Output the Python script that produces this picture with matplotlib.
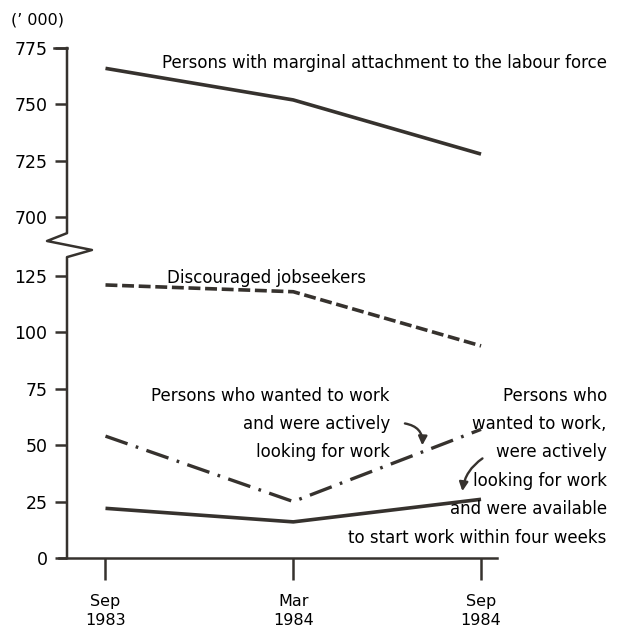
import matplotlib
matplotlib.use("Agg")
import matplotlib.pyplot as plt
from matplotlib.transforms import offset_copy

plt.rcParams["font.family"] = ["DejaVu Sans"]

# data ('000)
periods = ["Sep\n1983", "Mar\n1984", "Sep\n1984"]
marginal = [766, 752, 728]
discouraged = [121, 118, 94]
looking = [54, 25, 57]
available = [22, 16, 26]

lower_ticks = [0, 25, 50, 75, 100, 125]
upper_ticks = [700, 725, 750, 775]
offset = 549  # upper part of broken axis is shifted down by this much

ink = "#36322e"
x = list(range(len(periods)))

fig = plt.figure(figsize=(6.25, 6.28), dpi=100)
ax = fig.add_axes([0.1072, 0.1115, 0.688, 0.812])

ax.plot(x, [v - offset for v in marginal], color=ink, lw=2.6, solid_capstyle="butt")
ax.plot(x, discouraged, color=ink, lw=2.6, linestyle=(0, (3.3, 1.3)), dash_capstyle="butt")
ax.plot(x, looking, color=ink, lw=2.4, linestyle=(0, (7, 2.6, 0.8, 2.6)), dash_capstyle="butt")
ax.plot(x, available, color=ink, lw=2.6, solid_capstyle="butt")

ax.set_xlim(-0.205, 2.085)
ax.set_ylim(0, 775 - offset)

ax.set_xticks(x)
ax.set_xticklabels(periods, fontsize=11.5, linespacing=1.3)
ax.set_yticks(lower_ticks + [v - offset for v in upper_ticks])
ax.set_yticklabels([str(v) for v in lower_ticks + upper_ticks], fontsize=12.5)
ax.tick_params(axis="x", direction="out", length=16, width=1.8, color=ink, pad=10)
ax.tick_params(axis="y", direction="out", length=9, width=1.8, color=ink, pad=5)

for s in ["top", "right", "left"]:
    ax.spines[s].set_visible(False)
ax.spines["bottom"].set_color(ink)
ax.spines["bottom"].set_linewidth(1.8)
ax.spines["bottom"].set_bounds(-0.245, 2.085)

# broken y axis with zigzag
ax.plot([0, 0, -0.0465, 0.058, 0, 0], [1.0, 0.637, 0.6216, 0.604, 0.59, 0.0],
        transform=ax.transAxes, color=ink, lw=1.8, clip_on=False)
ax.plot([-0.03, 0], [1.0, 1.0], transform=ax.transAxes, color=ink, lw=1.8, clip_on=False)

fig.text(0.018, 0.968, "(\u2019 000)", fontsize=11.5, ha="left", va="center")

ax.text(0.3, 766 - offset + 2.5, "Persons with marginal attachment to the labour force",
        fontsize=12, ha="left", va="center")
ax.text(0.33, 124, "Discouraged jobseekers", fontsize=12, ha="left", va="center")

left_note = ["Persons who wanted to work", "and were actively", "looking for work"]
right_note = ["Persons who", "wanted to work,", "were actively", "looking for work",
              "and were available", "to start work within four weeks"]
for i, line in enumerate(left_note):
    tr = offset_copy(ax.transData, fig=fig, x=0, y=-20.5 * i, units="points")
    ax.text(1.515, 72, line, fontsize=12, ha="right", va="center", transform=tr)
for i, line in enumerate(right_note):
    tr = offset_copy(ax.transData, fig=fig, x=0, y=-20.5 * i, units="points")
    ax.text(2.67, 72, line, fontsize=12, ha="right", va="center", transform=tr,
            clip_on=False)

ax.annotate("", xy=(1.686, 48.7), xytext=(1.58, 59.8),
            arrowprops=dict(arrowstyle="-|>", color=ink, lw=1.7,
                            connectionstyle="arc3,rad=-0.5", mutation_scale=13))
ax.annotate("", xy=(1.899, 28.4), xytext=(2.02, 44.8),
            arrowprops=dict(arrowstyle="-|>", color=ink, lw=1.7,
                            connectionstyle="arc3,rad=0.25", mutation_scale=13))

fig.savefig("out.png", dpi=100)
